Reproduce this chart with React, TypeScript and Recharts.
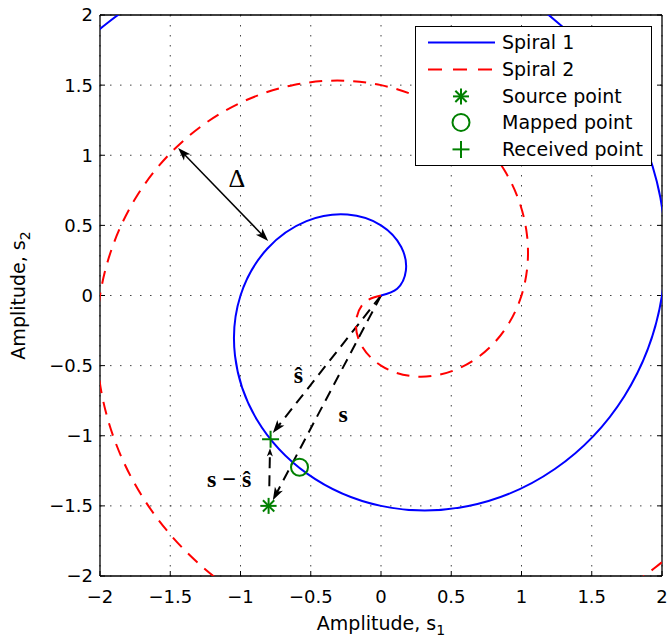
import React from 'react';
import {
  ScatterChart,
  Scatter,
  XAxis,
  YAxis,
  CartesianGrid,
  ReferenceLine,
  ReferenceDot,
  Legend,
  Label,
} from 'recharts';

const FONT = '"DejaVu Sans", Verdana, sans-serif';
const SERIF = '"Liberation Serif", "Times New Roman", serif';
const BLUE = '#0000ff';
const RED = '#ff0000';
const GREEN = '#008000';

// spiral traces, both starting at the origin
const spiral1X = [0, 0.115, 0.177, 0.144, 0, -0.239, -0.53, -0.808, -1, -1.039, -0.884, -0.526, 0, 0.622, 1.237, 1.732, 2, 1.963, 1.591, 0.909, 0, -1.005, -1.945, -2.656, -3];
const spiral1Y = [0, 0.048, 0.177, 0.346, 0.5, 0.577, 0.53, 0.335, 0, -0.431, -0.884, -1.27, -1.5, -1.501, -1.237, -0.718, 0, 0.813, 1.591, 2.194, 2.5, 2.425, 1.945, 1.1, 0];
const spiral2X = [0, -0.115, -0.177, -0.144, 0, 0.239, 0.53, 0.808, 1, 1.039, 0.884, 0.526, 0, -0.622, -1.237, -1.732, -2, -1.963, -1.591, -0.909, 0, 1.005, 1.945, 2.656, 3];
const spiral2Y = [0, -0.048, -0.177, -0.346, -0.5, -0.577, -0.53, -0.335, 0, 0.431, 0.884, 1.27, 1.5, 1.501, 1.237, 0.718, 0, -0.813, -1.591, -2.194, -2.5, -2.425, -1.945, -1.1, 0];

const sourcePoint = [{ x: -0.8, y: -1.5 }];
const mappedPoint = [{ x: -0.58, y: -1.224 }];
const receivedPoint = [{ x: -0.786, y: -1.025 }];

const axisTicks = [-2, -1.5, -1, -0.5, 0, 0.5, 1, 1.5, 2];
const legendLabels = ['Spiral 1', 'Spiral 2', 'Source point', 'Mapped point', 'Received point'];

// annotation arrows (data coords)
const sHatArrow = [{ x: 0, y: 0 }, { x: -0.77, y: -0.98 }];
const sArrow = [{ x: 0, y: 0 }, { x: -0.77, y: -1.46 }];
const diffArrow = [{ x: -0.795, y: -1.36 }, { x: -0.79, y: -1.09 }];
const deltaArrow = [{ x: -1.444, y: 1.052 }, { x: -0.803, y: 0.389 }];

const spiral1 = spiral1X.map((x, i) => ({ x, y: spiral1Y[i] }));
const spiral2 = spiral2X.map((x, i) => ({ x, y: spiral2Y[i] }));

const fmt = (v: number) => (v < 0 ? `\u2212${-v}` : `${v}`);
const noShape = () => <g />;
const noTick = () => null;

const headPath = (tx: number, ty: number, ux: number, uy: number, len: number, half: number) => {
  const bx = tx - ux * len;
  const by = ty - uy * len;
  const nx = -uy;
  const ny = ux;
  const mx = tx - ux * len * 0.75;
  const my = ty - uy * len * 0.75;
  return `M${tx},${ty}L${bx + nx * half},${by + ny * half}L${mx},${my}L${bx - nx * half},${by - ny * half}Z`;
};

const makeArrow = (dashed: boolean, both: boolean, len: number, half: number) => (p: any) => {
  const { x1, y1, x2, y2 } = p;
  const d = Math.hypot(x2 - x1, y2 - y1) || 1;
  const ux = (x2 - x1) / d;
  const uy = (y2 - y1) / d;
  const sx = both ? x1 + ux * len * 0.7 : x1;
  const sy = both ? y1 + uy * len * 0.7 : y1;
  return (
    <g>
      <line
        x1={sx}
        y1={sy}
        x2={x2 - ux * len * 0.7}
        y2={y2 - uy * len * 0.7}
        stroke="#000"
        strokeWidth={dashed ? 2 : 1.5}
        strokeDasharray={dashed ? '11 7' : undefined}
      />
      <path d={headPath(x2, y2, ux, uy, len, half)} fill="#000" />
      {both && <path d={headPath(x1, y1, -ux, -uy, len, half)} fill="#000" />}
    </g>
  );
};

const Asterisk = ({ cx, cy, r = 8 }: any) => {
  const q = r * 0.707;
  return (
    <g stroke={GREEN} strokeWidth={2}>
      <line x1={cx - r} y1={cy} x2={cx + r} y2={cy} />
      <line x1={cx} y1={cy - r} x2={cx} y2={cy + r} />
      <line x1={cx - q} y1={cy - q} x2={cx + q} y2={cy + q} />
      <line x1={cx - q} y1={cy + q} x2={cx + q} y2={cy - q} />
    </g>
  );
};
const Ring = ({ cx, cy }: any) => <circle cx={cx} cy={cy} r={8.5} fill="none" stroke={GREEN} strokeWidth={2} />;
const Cross = ({ cx, cy }: any) => (
  <g stroke={GREEN} strokeWidth={2}>
    <line x1={cx - 8.5} y1={cy} x2={cx + 8.5} y2={cy} />
    <line x1={cx} y1={cy - 8.5} x2={cx} y2={cy + 8.5} />
  </g>
);

const textAt = (content: React.ReactNode, size: number, bold = true) => (p: any) => (
  <text x={p.cx} y={p.cy} textAnchor="middle" fontFamily={SERIF} fontSize={size} fontWeight={bold ? 'bold' : 'normal'} fill="#000">
    {content}
  </text>
);

const XLabel = ({ viewBox }: any) => (
  <text x={viewBox.x + viewBox.width / 2} y={viewBox.y + 54} textAnchor="middle" fontFamily={FONT} fontSize={19} fill="#000">
    Amplitude, s<tspan fontSize={14} dy={5}>1</tspan>
  </text>
);

const YLabel = ({ viewBox }: any) => {
  const cy = viewBox.y + viewBox.height / 2;
  return (
    <text x={25} y={cy} transform={`rotate(-90, 25, ${cy})`} textAnchor="middle" fontFamily={FONT} fontSize={19} fill="#000">
      Amplitude, s<tspan fontSize={14} dy={5}>2</tspan>
    </text>
  );
};

const legendIcon = (i: number) => {
  if (i === 0) return <line x1={12} y1={13.4} x2={79} y2={13.4} stroke={BLUE} strokeWidth={2} />;
  if (i === 1) return <line x1={12} y1={13.4} x2={79} y2={13.4} stroke={RED} strokeWidth={2} strokeDasharray="14 11" />;
  if (i === 2) return <Asterisk cx={45} cy={13.4} />;
  if (i === 3) return <Ring cx={45} cy={13.4} />;
  return <Cross cx={45} cy={13.4} />;
};

const LegendBox = () => (
  <div
    style={{
      width: 237,
      height: 140,
      boxSizing: 'border-box',
      border: '1.3px solid #000',
      background: '#fff',
      paddingTop: 2,
    }}
  >
    {legendLabels.map((label, i) => (
      <div key={label} style={{ display: 'flex', alignItems: 'center', height: 26.8 }}>
        <svg width={86} height={26.8} style={{ flex: 'none' }}>
          {legendIcon(i)}
        </svg>
        <span style={{ fontFamily: FONT, fontSize: 19, color: '#000', lineHeight: '26.8px', whiteSpace: 'nowrap' }}>{label}</span>
      </div>
    ))}
  </div>
);

const tickStyle = { fontSize: 18, fill: '#000', fontFamily: FONT };
const axisLine = { stroke: '#000', strokeWidth: 1.3 };
const tickLine = { stroke: '#000', strokeWidth: 1 };

export default function App() {
  return (
    <div style={{ position: 'absolute', left: 0, top: 0, background: '#fff' }}>
      <ScatterChart width={668} height={637} margin={{ top: 14, right: 5, bottom: 0, left: 0 }}>
        <CartesianGrid stroke="#444" strokeDasharray="1.5 8.5" />
        <XAxis
          type="number"
          dataKey="x"
          domain={[-2, 2]}
          ticks={axisTicks}
          interval={0}
          allowDataOverflow
          height={61}
          tickSize={-5}
          tickMargin={19}
          tickFormatter={fmt}
          tick={tickStyle}
          axisLine={axisLine}
          tickLine={tickLine}
        >
          <Label content={XLabel} />
        </XAxis>
        <XAxis
          xAxisId="top"
          orientation="top"
          type="number"
          domain={[-2, 2]}
          ticks={axisTicks}
          interval={0}
          allowDataOverflow
          height={1}
          tickSize={-5}
          tick={noTick}
          axisLine={axisLine}
          tickLine={tickLine}
        />
        <YAxis
          type="number"
          dataKey="y"
          domain={[-2, 2]}
          ticks={axisTicks}
          interval={0}
          allowDataOverflow
          width={100}
          tickSize={-5}
          tickMargin={12}
          tickFormatter={fmt}
          tick={tickStyle}
          axisLine={axisLine}
          tickLine={tickLine}
        >
          <Label content={YLabel} />
        </YAxis>
        <YAxis
          yAxisId="right"
          orientation="right"
          type="number"
          domain={[-2, 2]}
          ticks={axisTicks}
          interval={0}
          allowDataOverflow
          width={1}
          tickSize={-5}
          tick={noTick}
          axisLine={axisLine}
          tickLine={tickLine}
        />
        <Scatter
          name="Spiral 1"
          data={spiral1}
          fill={BLUE}
          line={{ stroke: BLUE, strokeWidth: 2 }}
          lineJointType="natural"
          shape={noShape}
          isAnimationActive={false}
        />
        <Scatter
          name="Spiral 2"
          data={spiral2}
          fill={RED}
          line={{ stroke: RED, strokeWidth: 2, strokeDasharray: '13 9' }}
          lineJointType="natural"
          shape={noShape}
          isAnimationActive={false}
        />
        <ReferenceLine segment={deltaArrow} shape={makeArrow(false, true, 13, 4.5)} />
        <ReferenceLine segment={sHatArrow} shape={makeArrow(true, false, 13, 4.5)} />
        <ReferenceLine segment={sArrow} shape={makeArrow(true, false, 13, 4.5)} />
        <ReferenceLine segment={diffArrow} shape={makeArrow(true, false, 8, 3)} />
        <Scatter name="Source point" data={sourcePoint} shape={Asterisk} isAnimationActive={false} />
        <Scatter name="Mapped point" data={mappedPoint} shape={Ring} isAnimationActive={false} />
        <Scatter name="Received point" data={receivedPoint} shape={Cross} isAnimationActive={false} />
        <ReferenceDot x={-1.025} y={0.774} r={0} shape={textAt('\u0394', 26, false)} />
        <ReferenceDot x={-0.587} y={-0.624} r={0} shape={textAt('\u015D', 24)} />
        <ReferenceDot x={-0.27} y={-0.902} r={0} shape={textAt('s', 24)} />
        <ReferenceDot x={-1.08} y={-1.365} r={0} shape={textAt('s \u2212 \u015D', 24)} />
        <Legend
          verticalAlign="middle"
          align="center"
          layout="horizontal"
          wrapperStyle={{ left: 415, top: 26, width: 237, height: 140 }}
          content={() => <LegendBox />}
        />
      </ScatterChart>
    </div>
  );
}
